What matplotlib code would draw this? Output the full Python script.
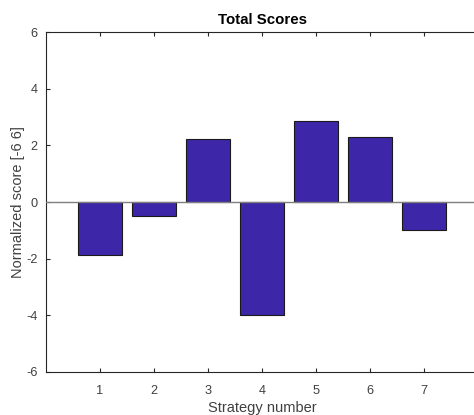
import matplotlib
matplotlib.use("Agg")
import matplotlib.pyplot as plt

strategies = [1, 2, 3, 4, 5, 6, 7]
scores = [-1.87, -0.48, 2.22, -4.0, 2.86, 2.30, -0.98]
yticks = [-6, -4, -2, 0, 2, 4, 6]

plt.rcParams["font.family"] = ["Liberation Sans", "DejaVu Sans"]
plt.rcParams["axes.unicode_minus"] = False

fig = plt.figure(figsize=(4.74, 4.15), dpi=100)
ax = fig.add_axes([46 / 474, 1 - 372 / 415, 432 / 474, 340 / 415])

ax.bar(strategies, scores, width=0.8, color="#3D26A8", edgecolor="#1a1a1a",
       linewidth=0.8, zorder=2)
ax.axhline(0, color="#7f7f7f", linewidth=1.0, zorder=3)

ax.set_xlim(0, 8)
ax.set_ylim(-6, 6)
ax.set_xticks(strategies)
ax.set_yticks(yticks)

ax.tick_params(direction="in", length=3, width=0.8, colors="#262626",
               labelcolor="#404040", labelsize=9.2, top=True, right=False)
ax.tick_params(axis="x", pad=9)
ax.tick_params(axis="y", pad=6)
for side in ("left", "top", "bottom"):
    ax.spines[side].set_color("#262626")
    ax.spines[side].set_linewidth(0.8)
ax.spines["right"].set_visible(False)

ax.set_title("Total Scores", fontsize=10.8, fontweight="bold", color="black", pad=6)
ax.set_xlabel("Strategy number", fontsize=10.5, color="#404040", labelpad=3)
ax.set_ylabel("Normalized score [-6 6]", fontsize=10.5, color="#404040", labelpad=1)

fig.savefig("out.png", dpi=100)
